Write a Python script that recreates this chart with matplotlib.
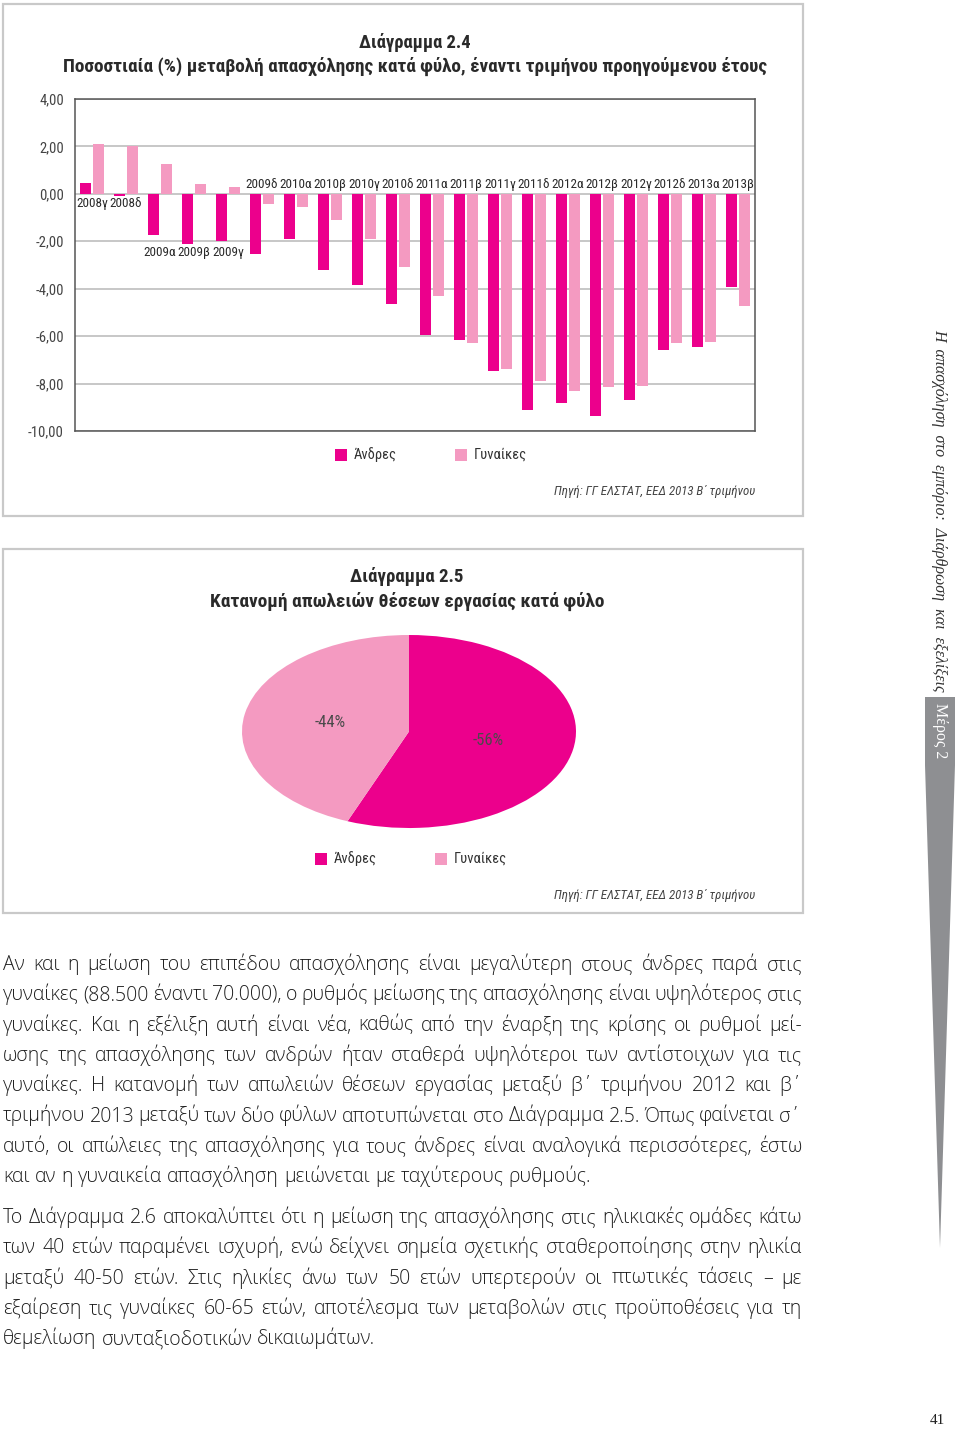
import matplotlib
matplotlib.use("Agg")
import matplotlib.pyplot as plt
from matplotlib import font_manager
from matplotlib.patches import Rectangle, Polygon
import numpy as np

# Διάγραμμα 2.4 - % μεταβολή απασχόλησης κατά φύλο
Quarters = ["2008γ", "2008δ", "2009α", "2009β", "2009γ", "2009δ", "2010α", "2010β", "2010γ", "2010δ",
            "2011α", "2011β", "2011γ", "2011δ", "2012α", "2012β", "2012γ", "2012δ", "2013α", "2013β"]
Men = [0.47, -0.07, -1.74, -2.11, -2.00, -2.54, -1.90, -3.19, -3.84, -4.66,
       -5.96, -6.16, -7.49, -9.13, -8.81, -9.36, -8.71, -6.57, -6.47, -3.94]
Women = [2.11, 2.00, 1.24, 0.43, 0.29, -0.43, -0.54, -1.09, -1.89, -3.07,
         -4.30, -6.30, -7.40, -7.90, -8.31, -8.13, -8.09, -6.30, -6.26, -4.73]
Y_ticks = [4, 2, 0, -2, -4, -6, -8, -10]

# Διάγραμμα 2.5 - κατανομή απωλειών
Sexes = ["Άνδρες", "Γυναίκες"]
Losses = [56, 44]

Source = "Πηγή: ΓΓ ΕΛΣΤΑΤ, ΕΕΔ 2013 Β΄ τριμήνου"

Para_1 = ["Αν και η μείωση του επιπέδου απασχόλησης είναι μεγαλύτερη στους άνδρες παρά στις",
          "γυναίκες (88.500 έναντι 70.000), ο ρυθμός μείωσης της απασχόλησης είναι υψηλότερος στις",
          "γυναίκες. Και η εξέλιξη αυτή είναι νέα, καθώς από την έναρξη της κρίσης οι ρυθμοί μεί-",
          "ωσης της απασχόλησης των ανδρών ήταν σταθερά υψηλότεροι των αντίστοιχων για τις",
          "γυναίκες. Η κατανομή των απωλειών θέσεων εργασίας μεταξύ β΄ τριμήνου 2012 και β΄",
          "τριμήνου 2013 μεταξύ των δύο φύλων αποτυπώνεται στο Διάγραμμα 2.5. Όπως φαίνεται σ΄",
          "αυτό, οι απώλειες της απασχόλησης για τους άνδρες είναι αναλογικά περισσότερες, έστω",
          "και αν η γυναικεία απασχόληση μειώνεται με ταχύτερους ρυθμούς."]
Para_2 = ["Το Διάγραμμα 2.6 αποκαλύπτει ότι η μείωση της απασχόλησης στις ηλικιακές ομάδες κάτω",
          "των 40 ετών παραμένει ισχυρή, ενώ δείχνει σημεία σχετικής σταθεροποίησης στην ηλικία",
          "μεταξύ 40-50 ετών. Στις ηλικίες άνω των 50 ετών υπερτερούν οι πτωτικές τάσεις – με",
          "εξαίρεση τις γυναίκες 60-65 ετών, αποτέλεσμα των μεταβολών στις προϋποθέσεις για τη",
          "θεμελίωση συνταξιοδοτικών δικαιωμάτων."]

MEN = "#EC008C"
WOMEN = "#F49AC1"
GRID = "#BEBEBE"
FRAME = "#C9C9C9"
SIDE = "#8E8F92"
INK = "#2A2A2A"

Names = set(f.name for f in font_manager.fontManager.ttflist)
Condensed = set(f.name for f in font_manager.fontManager.ttflist if f.stretch == "condensed")
def Pick(*fams):
    for f in fams:
        if f in Names:
            return f
    return "DejaVu Sans"
NARROW = Pick("Liberation Sans Narrow", "Noto Sans Condensed", "Roboto Condensed", "DejaVu Sans")
STRETCH = "condensed" if NARROW in Condensed and NARROW == "DejaVu Sans" else "normal"
BODY = Pick("Open Sans", "Lato", "Noto Sans", "DejaVu Sans")
SERIF = Pick("Liberation Serif", "DejaVu Serif")

fig = plt.figure(figsize=(9.6, 14.31), dpi=100)
fig.patch.set_facecolor("white")
R = fig.canvas.get_renderer()

def Width(t):
    return t.get_window_extent(renderer=R).width

def Fit(t, w, cap=None):
    s = t.get_fontsize() * w / Width(t)
    t.set_fontsize(s if cap is None else min(s, cap))
    return t

# page overlay in pixel coordinates
page = fig.add_axes([0, 0, 1, 1], zorder=0)
page.set_xlim(0, 960)
page.set_ylim(1431, 0)
page.axis("off")

def Narrow(x, y, s, size, color=INK, **kw):
    return page.text(x, y, s, fontsize=size, family=NARROW, stretch=STRETCH, color=color, **kw)

# frames
page.add_patch(Rectangle((3, 4), 800, 512, fill=False, ec=FRAME, lw=1.6))
page.add_patch(Rectangle((3, 549), 800, 364, fill=False, ec=FRAME, lw=1.6))

# ---- bar chart -------------------------------------------------------------
Fit(Narrow(415, 43, "Διάγραμμα 2.4", 13, ha="center", va="center", fontweight="bold"), 112, 14.5)
Fit(Narrow(415, 66, "Ποσοστιαία (%) μεταβολή απασχόλησης κατά φύλο, έναντι τριμήνου προηγούμενου έτους",
           13, ha="center", va="center", fontweight="bold"), 700, 14.5)

ax = fig.add_axes([75 / 960, 1 - 431 / 1431, 680 / 960, 332 / 1431], zorder=2)
ax.patch.set_alpha(0)
x = np.arange(len(Quarters))
ax.bar(x - 0.197, Men, 0.335, color=MEN, zorder=3)
ax.bar(x + 0.197, Women, 0.335, color=WOMEN, zorder=3)
ax.set_xlim(-0.5, len(Quarters) - 0.5)
ax.set_ylim(-10, 4)
ax.set_xticks([])
ax.set_yticks(Y_ticks)
ax.set_yticklabels(["{:.2f}".format(v).replace(".", ",") for v in Y_ticks])
ax.yaxis.grid(True, color=GRID, lw=1.2)
ax.set_axisbelow(True)
ax.tick_params(axis="y", length=0, pad=8, labelsize=10.5, labelcolor="#444444")
for lab in ax.get_yticklabels():
    lab.set_family(NARROW)
    lab.set_stretch(STRETCH)
for s in ax.spines.values():
    s.set_color("#555555")
    s.set_linewidth(1.1)

probe = ax.text(0, 0, "2009α", fontsize=10, family=NARROW, stretch=STRETCH)
cat_size = min(10 * 32 / Width(probe), 10.8)
probe.remove()
for i, q in enumerate(Quarters):
    lo, hi = min(Men[i], Women[i]), max(Men[i], Women[i])
    if hi < 0:
        ly, va = 0.12, "bottom"
    elif lo > -0.5:
        ly, va = -0.15, "top"
    else:
        ly, va = -2.2, "top"
    ax.text(i, ly, q, ha="center", va=va, fontsize=cat_size, family=NARROW,
            stretch=STRETCH, color=INK, zorder=4)

def Legend(x0, y0, gap):
    for k, (lab, col) in enumerate(zip(Sexes, [MEN, WOMEN])):
        xx = x0 + k * gap
        page.add_patch(Rectangle((xx, y0 - 6), 12, 12, color=col, lw=0))
        Narrow(xx + 19, y0, lab, 10.5, color="#333333", ha="left", va="center")

def Src(y):
    Fit(Narrow(755, y, Source, 9, color="#444444", ha="right", va="center", style="italic"), 201, 10.5)

Legend(335, 455, 120)
Src(491)

# ---- pie chart -------------------------------------------------------------
Fit(Narrow(407, 577, "Διάγραμμα 2.5", 13, ha="center", va="center", fontweight="bold"), 113, 14.5)
Fit(Narrow(407, 601, "Κατανομή απωλειών θέσεων εργασίας κατά φύλο", 13,
           ha="center", va="center", fontweight="bold"), 391, 14.5)

pax = fig.add_axes([242 / 960, 1 - 828 / 1431, 334 / 960, 193 / 1431], zorder=2)
wedges, _, pcts = pax.pie(Losses, colors=[MEN, WOMEN], startangle=90, counterclock=False,
                          autopct=lambda p: "-{:.0f}%".format(p), pctdistance=0.48,
                          wedgeprops=dict(linewidth=0))
pax.set_aspect("auto")
pax.set_xlim(-1, 1)
pax.set_ylim(-1, 1)
for t in pcts:
    t.set_family(NARROW)
    t.set_stretch(STRETCH)
    t.set_fontsize(12)
    t.set_color("#4A4A4A")

Legend(315, 859, 120)
Src(895)

# ---- body text -------------------------------------------------------------
X0, X1 = 3, 802
probe = [page.text(0, 0, l, fontsize=14, family=BODY, fontweight=300) for l in Para_1[:-1] + Para_2[:-1]]
ratio = min((X1 - X0) / Width(t) for t in probe) * 1.02
for t in probe:
    t.remove()
BODY_SIZE = 14 * ratio

def Put(lines, y0, step=30.3):
    for n, line in enumerate(lines):
        y = y0 + n * step
        words = line.split(" ")
        ts = [page.text(0, y, w, fontsize=BODY_SIZE, family=BODY, fontweight=300,
                        color="#1E1E1E", va="baseline") for w in words]
        ws = [Width(t) for t in ts]
        if n == len(lines) - 1:
            sp = page.text(0, 0, "a a", fontsize=BODY_SIZE, family=BODY, fontweight=300)
            sp2 = page.text(0, 0, "aa", fontsize=BODY_SIZE, family=BODY, fontweight=300)
            gap = Width(sp) - Width(sp2)
            sp.remove()
            sp2.remove()
        else:
            gap = (X1 - X0 - sum(ws)) / (len(words) - 1)
        xx = X0
        for t, w in zip(ts, ws):
            t.set_x(xx)
            xx += w + gap

Put(Para_1, 970)
Put(Para_2, 1223)

# ---- side bar --------------------------------------------------------------
st = page.text(939, 510, "Η  απασχόληση  στο  εμπόριο:  Διάρθρωση  και  εξελίξεις", fontsize=10,
               family=SERIF, style="italic", color="#333333", ha="center", va="center")
Fit(st, 364)
st.set_rotation(-90)
page.add_patch(Rectangle((925, 697), 30, 68, color=SIDE, lw=0))
page.text(940, 731, "Μέρος 2", fontsize=11.5, family=SERIF, color="white",
          ha="center", va="center", rotation=-90)
page.add_patch(Polygon([(925, 765), (955, 765), (940, 1248)], closed=True, color=SIDE, lw=0))
page.text(937, 1421, "41", fontsize=11, family=SERIF, color="#222222", ha="center", va="center")

fig.savefig("out.png", dpi=100, facecolor="white")
